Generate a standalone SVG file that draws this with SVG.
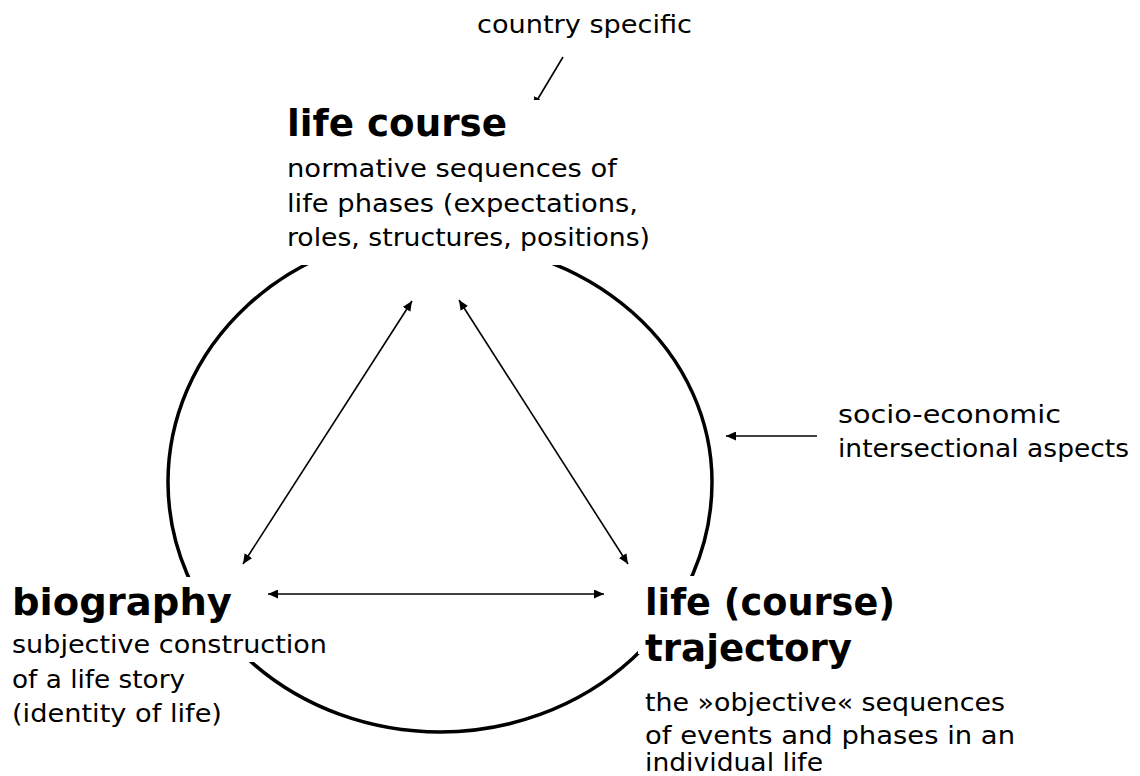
<svg xmlns="http://www.w3.org/2000/svg" width="1140" height="776" viewBox="0 0 1140 776">
  <style>
    .t { font-family: "DejaVu Sans", "Liberation Sans", sans-serif; font-size: 25px; fill: #000; }
    .h { font-family: "DejaVu Sans", "Liberation Sans", sans-serif; font-size: 38px; font-weight: bold; fill: #000; }
    .ring { fill: none; stroke: #000; stroke-width: 3.5; }
    .link { stroke: #000; stroke-width: 1.6; fill: none; }
    .bg { fill: #fff; }
  </style>
  <defs>
    <marker id="ah" viewBox="0 0 10 9" refX="10" refY="4.5" markerWidth="10" markerHeight="9" markerUnits="userSpaceOnUse" orient="auto-start-reverse">
      <path d="M0,0 L10,4.5 L0,9 z" fill="#000"/>
    </marker>
  </defs>

  <rect width="1140" height="776" fill="#fff"/>

  <!-- surrounding ring -->
  <path class="ring" d="M168,482 A272,250 0 0 1 440,232 M440,242 A272,240 0 0 1 712,482 A272,250 0 0 1 440,732 A272,250 0 0 1 168,482"/>

  <g id="connectors">
    <line class="link" x1="412" y1="301" x2="243" y2="564" marker-start="url(#ah)" marker-end="url(#ah)"/>
    <line class="link" x1="459" y1="300" x2="628" y2="564" marker-start="url(#ah)" marker-end="url(#ah)"/>
    <line class="link" x1="268" y1="594" x2="604" y2="594" marker-start="url(#ah)" marker-end="url(#ah)"/>
    <line class="link" x1="563" y1="57" x2="533" y2="107" marker-end="url(#ah)"/>
    <line class="link" x1="817" y1="436" x2="726" y2="436" marker-end="url(#ah)"/>
  </g>

  <g id="country-specific">
    <text class="t" x="477" y="33" textLength="215" lengthAdjust="spacingAndGlyphs">country specific</text>
  </g>

  <g id="socio-economic">
    <text class="t" x="838" y="423" textLength="223" lengthAdjust="spacingAndGlyphs">socio-economic</text>
    <text class="t" x="838" y="457" textLength="291" lengthAdjust="spacingAndGlyphs">intersectional aspects</text>
  </g>

  <g id="life-course">
    <rect class="bg" x="280" y="100" width="380" height="165"/>
    <text class="h" x="287" y="136" textLength="220" lengthAdjust="spacingAndGlyphs">life course</text>
    <text class="t" x="287" y="177" textLength="330" lengthAdjust="spacingAndGlyphs">normative sequences of</text>
    <text class="t" x="287" y="212" textLength="351" lengthAdjust="spacingAndGlyphs">life phases (expectations,</text>
    <text class="t" x="287" y="246" textLength="363" lengthAdjust="spacingAndGlyphs">roles, structures, positions)</text>
  </g>

  <g id="biography">
    <rect class="bg" x="5" y="577" width="240" height="52"/>
    <rect class="bg" x="5" y="629" width="330" height="33"/>
    <text class="h" x="12" y="615" textLength="220" lengthAdjust="spacingAndGlyphs">biography</text>
    <text class="t" x="12" y="653" textLength="315" lengthAdjust="spacingAndGlyphs">subjective construction</text>
    <text class="t" x="12" y="688" textLength="173" lengthAdjust="spacingAndGlyphs">of a life story</text>
    <text class="t" x="12" y="722" textLength="210" lengthAdjust="spacingAndGlyphs">(identity of life)</text>
  </g>

  <g id="trajectory">
    <rect class="bg" x="638" y="576" width="280" height="78"/>
    <text class="h" x="645" y="615" textLength="250" lengthAdjust="spacingAndGlyphs">life (course)</text>
    <text class="h" x="645" y="661" textLength="207" lengthAdjust="spacingAndGlyphs">trajectory</text>
    <text class="t" x="645" y="711" textLength="360" lengthAdjust="spacingAndGlyphs">the »objective« sequences</text>
    <text class="t" x="645" y="744" textLength="370" lengthAdjust="spacingAndGlyphs">of events and phases in an</text>
    <text class="t" x="645" y="771" textLength="178" lengthAdjust="spacingAndGlyphs">individual life</text>
  </g>
</svg>
